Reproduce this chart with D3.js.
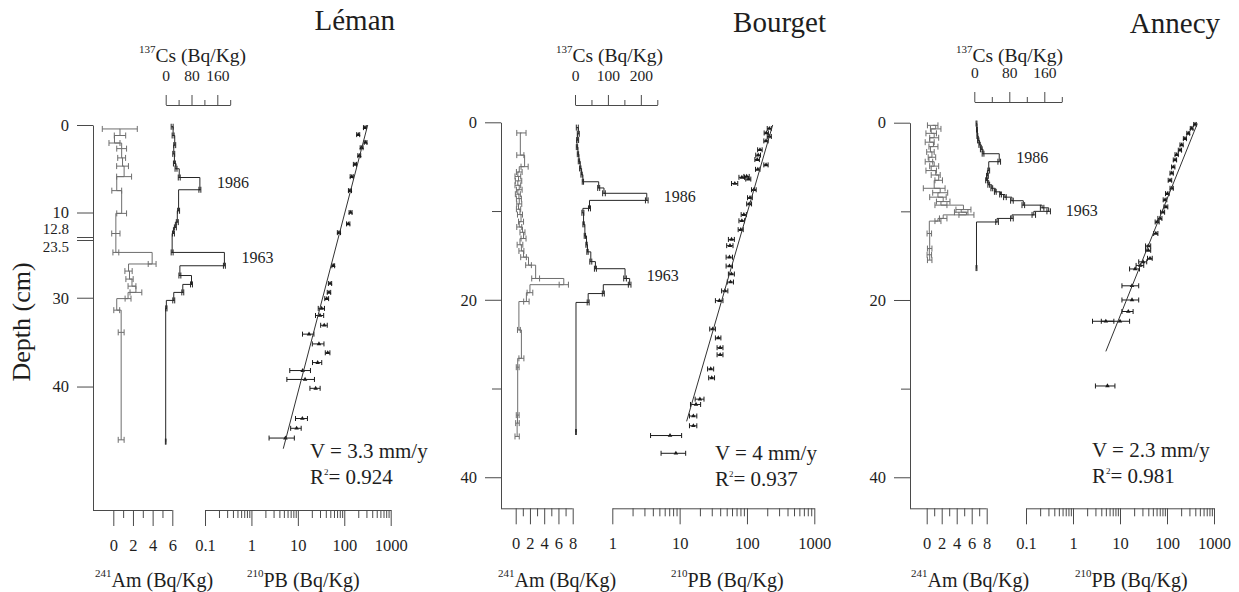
<!DOCTYPE html>
<html>
<head>
<meta charset="utf-8">
<script src="https://cdn.jsdelivr.net/npm/d3@7"></script>
<style>
  body { margin: 0; background: #fff; }
  svg text { font-family: "Liberation Serif", "Times New Roman", serif; fill: #1e1e1e; }
</style>
</head>
<body>
<svg width="1239" height="592"></svg>
<script>
// ---- data ----
var lakes = ['Léman', 'Bourget', 'Annecy'];
var rates = [3.3, 4, 2.3];          // sedimentation rate, mm/y
var r2s = ['0.924', '0.937', '0.981'];

// 241Am : [depth cm, Bq/Kg, error]
var lemanAm = [[0.45,0.66,1.78],[1.2,0.68,0.58],[2.06,0.12,0.56],[2.7,0.85,0.5],[3.76,0.85,0.4],[4.7,0.94,0.6],
  [5.9,1.1,0.76],[7.5,0.35,0.5],[10.1,0.85,0.5],[12.4,0.26,0.42],[24.9,0.26,0.3],[26.2,3.95,0.4],[27.0,1.55,0.37],
  [27.9,1.65,0.37],[28.7,1.9,0.4],[29.4,2.3,0.6],[30.1,1.5,0.3],[31.4,0.35,0.3],[33.9,0.8,0.3],[46.0,0.8,0.3]];
var bourgetAm = [[1.2,0.8,0.65],[3.7,0.65,0.5],[5.0,1.25,0.5],[5.6,0.5,0.4],[6.1,0.3,0.4],[6.6,0.4,0.45],[7.1,0.3,0.4],
  [7.6,0.5,0.4],[8.1,0.3,0.35],[8.6,0.45,0.35],[9.2,0.5,0.35],[9.8,0.4,0.3],[10.4,0.6,0.35],[11.2,0.75,0.35],
  [11.8,0.5,0.35],[12.4,0.95,0.35],[13.1,1.1,0.35],[13.8,0.6,0.4],[14.5,0.8,0.35],[15.2,1.1,0.4],[16.1,1.8,0.4],
  [17.6,2.8,0.55],[18.3,6.75,0.65],[19.2,2.0,0.4],[20.2,1.5,0.38],[23.4,0.45,0.2],[26.6,0.8,0.35],[27.6,0.28,0.2],
  [33.0,0.28,0.2],[33.9,0.25,0.25],[35.4,0.2,0.3]];
var annecyAm = [[0.3,0.8,0.7],[0.7,1.2,0.7],[1.2,0.6,0.7],[1.7,1.0,0.6],[2.2,0.4,0.6],[2.7,0.9,0.6],[3.3,0.5,0.5],
  [3.9,0.7,0.5],[4.4,0.3,0.5],[4.9,1.0,0.6],[5.4,0.6,0.7],[5.9,1.2,0.6],[6.5,1.6,0.5],[7.4,1.0,1.45],[7.9,1.8,1.0],
  [8.4,1.5,1.1],[8.9,2.2,0.9],[9.3,1.9,0.8],[9.8,4.9,1.0],[10.1,4.6,0.9],[10.4,5.3,1.0],[10.8,2.2,0.5],
  [11.1,1.5,0.4],[12.5,0.35,0.3],[14.2,0.4,0.3],[14.9,0.35,0.3],[15.5,0.4,0.3]];

// 137Cs : [depth cm, Bq/Kg, error]
var lemanCs = [[0.2,20,3],[1.2,23,3],[2.3,28,3],[3.3,25,3],[4.4,27,3],[5.0,32,3],[6.0,42,3],[7.4,106,3],
  [9.8,40,3],[11.1,36,3],[11.7,30,3],[12.4,24,3],[24.9,20,3],[26.4,182,3],[27.5,44,3],[28.5,80,3],[29.4,53,3],
  [30.3,25,3],[31.2,2,2],[46.2,0,1]];
var bourgetCs = [[0.6,7,3],[1.3,10,3],[2.0,8,3],[2.8,6,2],[3.6,9,2],[4.4,12,2],[5.2,16,2],[5.9,20,2],[6.7,24,2],
  [7.4,72,3],[8.0,88,4],[8.8,218,4],[9.7,44,3],[10.2,24,3],[11.5,26,2],[12.8,30,2],[13.8,35,2],[14.6,38,2],
  [15.7,48,3],[16.5,62,3],[17.6,152,4],[18.3,166,4],[19.3,86,3],[20.3,40,3],[34.9,3,1]];
var annecyCs = [[0.1,5,1],[0.8,6,1],[1.5,7,1],[2.0,9,1.5],[2.5,12,1.5],[3.0,16,2],[3.5,20,2],[4.4,57,3],[5.4,33,2],
  [6.0,30,2],[6.5,28,2],[7.0,33,2],[7.4,40,2],[7.8,48,2],[8.1,60,2],[8.4,70,3],[8.8,86,3],[9.3,112,3],[9.6,155,4],
  [10.0,170,4],[10.4,136,4],[10.8,86,3],[11.2,52,3],[16.4,5,1]];

// 210Pb excess : [depth cm, Bq/Kg, error]
var lemanPb = [[0.3,279,20],[1.1,200,15],[2.0,288,20],[2.6,237,17],[3.5,211,15],[4.5,170,13],[5.9,145,11],
  [7.5,133,10],[10.0,137,10],[11.3,122,10],[12.3,77,6],[26.4,58,4],[28.4,49.5,4],[29.4,47,4],[30.1,42,4],
  [31.2,32.5,5],[32.0,30,6],[33.1,37,6],[34.1,17.4,4.8],[35.2,28.5,8],[36.2,44,5],[37.3,26.7,6],[38.2,12.7,6],
  [39.2,14.3,8.5],[40.2,24.2,6],[43.6,12.5,3.6],[44.7,9.4,2.4],[45.8,5.4,3]];
var bourgetPb = [[0.7,215,15],[1.2,194,14],[1.6,215,15],[2.1,192,14],[3.1,156,12],[3.7,147,12],[4.2,142,11],
  [4.8,192,14],[5.3,145,11],[6.1,99,9],[6.2,84,8],[6.4,105,9],[6.9,66,7],[7.6,127,10],[8.5,111,9],[9.2,108,9],
  [10.4,90,8],[11.1,84,8],[12.1,81,7],[13.2,59,6],[13.9,56,6],[15.2,55,6],[16.2,55,6],[17.1,59,6],[18.0,57,6],
  [19.0,47,5],[20.1,39,5],[23.3,31,3],[24.3,37.5,3.5],[25.4,40,4],[26.2,40,4],[27.8,29,3],[28.8,30,3],
  [31.2,20,3],[31.8,17.5,3],[33.1,16,2],[34.2,16,2],[35.3,7.2,3.5],[37.3,8.8,3.5]];
var annecyPb = [[0.2,395,25],[0.65,335,22],[1.2,284,20],[1.8,241,18],[2.5,205,16],[3.1,189,15],[3.6,161,13],
  [4.2,148,12],[5.0,136,11],[5.7,126,10],[6.5,116,10],[7.4,126,10],[8.0,102,9],[8.7,91,8],[9.5,95,9],
  [10.1,81,8],[10.8,71,7],[11.2,62,6],[12.5,58,6],[13.9,40,5],[14.4,40,5],[15.3,43.5,5],[15.7,31,6],
  [16.1,27,5],[16.5,21,5],[18.4,18,7],[20.0,18,7],[21.3,15,4],[22.4,10,6],[22.4,5.0,2.4],[29.7,5.4,2.4]];

// regression line of the 210Pb profile : [depth, Bq/Kg] at both ends
var lemanFit = [[0, 320], [47, 4.85]];
var bourgetFit = [[0.3, 241], [33.7, 12.7]];
var annecyFit = [[0.1, 442], [25.8, 5.0]];

// dated 137Cs peaks : [label, depth]
var lemanEvents = [['1986', 6.6], ['1963', 25.5]];
var bourgetEvents = [['1986', 8.3], ['1963', 17.3]];
var annecyEvents = [['1986', 3.9], ['1963', 9.9]];

// tick labels
var lemanDepthTicks = [0, 10, 12.8, 23.5, 30, 40];
var lemanDepthLabels = [0, 10, 12.8, 23.5, 30, 40];
var coreDepthTicks = [0, 10, 20, 30, 40];
var coreDepthLabels = [0, 20, 40];
var amTicks6 = [0, 1, 2, 3, 4, 5, 6];
var amTicks8 = [0, 1, 2, 3, 4, 5, 6, 7, 8];
var csTicks200 = [0, 40, 80, 120, 160, 200];
var csLabels200 = [0, 80, 160];
var csTicks250 = [0, 50, 100, 150, 200, 250];
var csLabels250 = [0, 100, 200];

// ---- layout ----
var panels = [
  { name: lakes[0], am: lemanAm, cs: lemanCs, pb: lemanPb, fit: lemanFit, events: lemanEvents, rate: rates[0], r2: r2s[0],
    depthDomain: [0, 12.8, 23.5, 53.9], depthRange: [125, 237, 240, 510],
    depthTicks: lemanDepthTicks, depthLabels: lemanDepthLabels,
    axisX: 93, bottomY: 510, amTicks: amTicks6, amRange: [113.3, 172.3],
    pbDomain: [0.1, 1000], pbRange: [205, 390.7],
    csTicks: csTicks200, csLabels: csLabels200, csRange: [165.7, 230.2], csY: 105,
    titleX: 395, titleY: 30, csLabelX: 139, amLabelX: 95, pbLabelX: 247, textX: 310, textY: 458, depthTitle: true },
  { name: lakes[1], am: bourgetAm, cs: bourgetCs, pb: bourgetPb, fit: bourgetFit, events: bourgetEvents, rate: rates[1], r2: r2s[1],
    depthDomain: [0, 43.5], depthRange: [122.3, 508.3],
    depthTicks: coreDepthTicks, depthLabels: coreDepthLabels,
    axisX: 501, bottomY: 508.3, amTicks: amTicks8, amRange: [515.7, 572.7],
    pbDomain: [1, 1000], pbRange: [612.3, 814.3],
    csTicks: csTicks250, csLabels: csLabels250, csRange: [575, 657.3], csY: 105,
    titleX: 826, titleY: 32, csLabelX: 556, amLabelX: 498, pbLabelX: 671, textX: 715, textY: 460, depthTitle: false },
  { name: lakes[2], am: annecyAm, cs: annecyCs, pb: annecyPb, fit: annecyFit, events: annecyEvents, rate: rates[2], r2: r2s[2],
    depthDomain: [0, 43.5], depthRange: [122.7, 508.3],
    depthTicks: coreDepthTicks, depthLabels: coreDepthLabels,
    axisX: 910, bottomY: 508.3, amTicks: amTicks8, amRange: [926.7, 986.7],
    pbDomain: [0.1, 1000], pbRange: [1026, 1214],
    csTicks: csTicks200, csLabels: csLabels200, csRange: [974.3, 1061.8], csY: 102,
    titleX: 1220, titleY: 33, csLabelX: 956, amLabelX: 911, pbLabelX: 1075, textX: 1092, textY: 457, depthTitle: false }
];

var axisColor = '#4a4a4a', amColor = '#6e6e6e', csColor = '#262626', pbColor = '#1a1a1a';
var svg = d3.select('svg');

function styleAxis(g, size) {
  g.attr('font-family', null).attr('font-size', null);
  g.selectAll('line').attr('stroke', axisColor);
  g.selectAll('path').attr('stroke', axisColor);
  g.selectAll('text').style('font-size', size + 'px').attr('fill', '#1e1e1e');
}

function errBars(g, data, x, y, color, cap) {
  var bars = g.append('g').attr('stroke', color).attr('stroke-width', 1).attr('fill', 'none');
  bars.selectAll('path').data(data).enter().append('path')
    .attr('d', function(d) {
      var y0 = y(d[0]), x0 = x(d[1] - d[2]), x1 = x(d[1] + d[2]);
      return 'M' + x0 + ',' + y0 + 'H' + x1 +
        'M' + x0 + ',' + (y0 - cap) + 'V' + (y0 + cap) +
        'M' + x1 + ',' + (y0 - cap) + 'V' + (y0 + cap);
    });
}

panels.forEach(function(p) {
  var g = svg.append('g');
  var y = d3.scaleLinear().domain(p.depthDomain).range(p.depthRange);
  var am = d3.scaleLinear().domain([0, d3.max(p.amTicks)]).range(p.amRange);
  var cs = d3.scaleLinear().domain([0, d3.max(p.csTicks)]).range(p.csRange);
  var pb = d3.scaleLog().domain(p.pbDomain).range(p.pbRange);

  // depth axis
  var yAxis = d3.axisLeft(y).tickValues(p.depthTicks).tickSize(16).tickSizeOuter(0)
    .tickFormat(function(d) { return p.depthLabels.indexOf(d) >= 0 ? d : ''; });
  var ya = g.append('g').attr('transform', 'translate(' + p.axisX + ',0)').call(yAxis);
  styleAxis(ya, 16.5);
  ya.selectAll('.tick').filter(function(d) { return p.depthLabels.indexOf(d) < 0; })
    .select('line').attr('x2', -9);
  ya.selectAll('.tick text').attr('x', -24);
  // the two labels around the break of the Léman core sit above / below their ticks
  ya.selectAll('.tick text').filter(function(d) { return d === 12.8; })
    .style('font-size', '15px').attr('dy', -4);
  ya.selectAll('.tick text').filter(function(d) { return d === 23.5; })
    .style('font-size', '15px').attr('dy', 11.5);

  // 241Am axis (joined to the depth axis)
  g.append('line').attr('x1', p.axisX).attr('x2', am.range()[1])
    .attr('y1', p.bottomY + 0.5).attr('y2', p.bottomY + 0.5).attr('stroke', axisColor);
  var amAxis = d3.axisBottom(am).tickValues(p.amTicks).tickSize(16)
    .tickFormat(function(d) { return d % 2 === 0 ? d : ''; });
  var aa = g.append('g').attr('transform', 'translate(0,' + p.bottomY + ')').call(amAxis);
  aa.select('.domain').remove();
  styleAxis(aa, 16.5);
  aa.selectAll('.tick').filter(function(d) { return d % 2 !== 0; }).select('line').attr('y2', 8);
  aa.selectAll('.tick text').attr('y', 29);

  // 210Pb log axis
  var pbTicks = [];
  d3.range(Math.round(Math.log10(p.pbDomain[0])), 3).forEach(function(e) {
    d3.range(1, 10).forEach(function(k) { pbTicks.push(+(k * Math.pow(10, e)).toPrecision(3)); });
  });
  pbTicks.push(1000);
  var pbAxis = d3.axisBottom(pb).tickValues(pbTicks).tickSize(16).tickSizeOuter(0)
    .tickFormat(function(d) { return Math.abs(Math.log10(d) % 1) < 1e-9 ? String(d) : ''; });
  var pa = g.append('g').attr('transform', 'translate(0,' + p.bottomY + ')').call(pbAxis);
  styleAxis(pa, 16.5);
  pa.selectAll('.tick').filter(function(d) { return Math.abs(Math.log10(d) % 1) > 1e-9; })
    .select('line').attr('y2', 8);
  pa.selectAll('.tick text').attr('y', 29);

  // 137Cs top axis
  var csAxis = d3.axisTop(cs).tickValues(p.csTicks).tickSize(10).tickSizeOuter(0)
    .tickFormat(function(d) { return p.csLabels.indexOf(d) >= 0 ? d : ''; });
  var ca = g.append('g').attr('transform', 'translate(0,' + p.csY + ')').call(csAxis);
  styleAxis(ca, 15.5);
  ca.selectAll('.tick').filter(function(d) { return p.csLabels.indexOf(d) < 0; }).select('line').attr('y2', -5);
  ca.selectAll('.tick text').attr('y', -24);

  // profiles
  var amLine = d3.line().x(function(d) { return am(d[1]); }).y(function(d) { return y(d[0]); }).curve(d3.curveStepAfter);
  var csLine = d3.line().x(function(d) { return cs(d[1]); }).y(function(d) { return y(d[0]); }).curve(d3.curveStepAfter);
  g.append('path').datum(p.am).attr('d', amLine).attr('fill', 'none').attr('stroke', amColor);
  errBars(g, p.am, am, y, amColor, 3);
  g.append('path').datum(p.cs).attr('d', csLine).attr('fill', 'none').attr('stroke', csColor);
  errBars(g, p.cs, cs, y, csColor, 3);

  // 210Pb points, error bars and fit
  errBars(g, p.pb, pb, y, pbColor, 2.5);
  g.append('g').selectAll('path').data(p.pb).enter().append('path')
    .attr('d', d3.symbol().type(d3.symbolTriangle).size(9))
    .attr('transform', function(d) { return 'translate(' + pb(d[1]) + ',' + y(d[0]) + ')'; })
    .attr('fill', pbColor);
  g.append('path').datum(p.fit)
    .attr('d', d3.line().x(function(d) { return pb(d[1]); }).y(function(d) { return y(d[0]); }))
    .attr('fill', 'none').attr('stroke', '#333').attr('stroke-width', 1);

  // dates
  p.events.forEach(function(ev) {
    var near = p.cs.filter(function(d) { return Math.abs(d[0] - ev[1]) < 1.6; });
    var peak = d3.max(near, function(d) { return d[1]; });
    g.append('text').attr('x', cs(peak) + 17).attr('y', y(ev[1])).attr('dy', '0.35em')
      .style('font-size', '16px').text(ev[0]);
  });

  // titles and labels
  g.append('text').attr('x', p.titleX).attr('y', p.titleY).attr('text-anchor', 'end')
    .style('font-size', '29px').text(p.name);

  var ct = g.append('text').attr('x', p.csLabelX).attr('y', 62).style('font-size', '19.5px');
  ct.append('tspan').attr('dy', -9).style('font-size', '11px').text('137');
  ct.append('tspan').attr('dy', 9).text('Cs (Bq/Kg)');

  var at = g.append('text').attr('x', p.amLabelX).attr('y', 587).style('font-size', '20px');
  at.append('tspan').attr('dy', -10).style('font-size', '11px').text('241');
  at.append('tspan').attr('dy', 10).text('Am (Bq/Kg)');

  var pt = g.append('text').attr('x', p.pbLabelX).attr('y', 587).style('font-size', '20px');
  pt.append('tspan').attr('dy', -10).style('font-size', '11px').text('210');
  pt.append('tspan').attr('dy', 10).text('PB (Bq/Kg)');

  g.append('text').attr('x', p.textX).attr('y', p.textY).style('font-size', '21px')
    .text('V = ' + p.rate + ' mm/y');
  var rt = g.append('text').attr('x', p.textX).attr('y', p.textY + 26).style('font-size', '21px');
  rt.append('tspan').text('R');
  rt.append('tspan').attr('dy', -9).style('font-size', '9px').text('2');
  rt.append('tspan').attr('dy', 9).text('= ' + p.r2);

  if (p.depthTitle) {
    g.append('text').attr('transform', 'translate(30,' + 322 + ') rotate(-90)')
      .attr('text-anchor', 'middle').style('font-size', '26px').text('Depth (cm)');
  }
});
</script>
</body>
</html>
